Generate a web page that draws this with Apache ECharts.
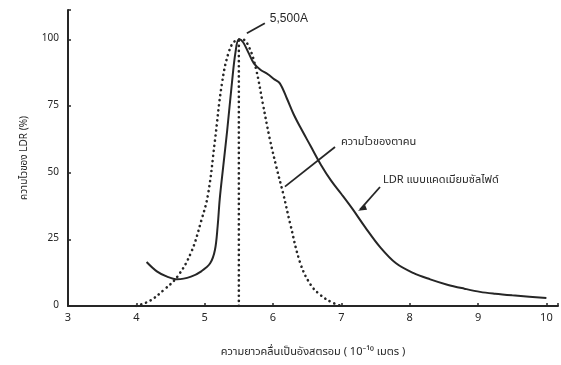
<!DOCTYPE html>
<html>
<head>
<meta charset="utf-8">
<script src="https://cdn.jsdelivr.net/npm/echarts@6/dist/echarts.min.js"></script>
<style>
html,body{margin:0;padding:0;background:#fff;}
#chart{width:561px;height:365px;}
</style>
</head>
<body>
<div id="chart"></div>
<script>
// wavelength (x 10^-10 m) and sensitivity (%)
const eyeX   = [4.0, 4.2, 4.4, 4.6, 4.8, 4.95, 5.05, 5.15, 5.25, 5.35, 5.45, 5.55, 5.65, 5.75, 5.85, 5.95, 6.05, 6.15, 6.25, 6.4, 6.55, 6.7, 6.85, 7.0];
const eyeY   = [0,   2,   6,   11,  20,  32,   42,   62,   83,   95,   99.5, 100,  97,   89,   76,   63,   52,   42,   31,   16,  8,    4,   1.5,  0];
const ldrX   = [4.15, 4.3, 4.45, 4.6, 4.8, 4.95, 5.08, 5.15, 5.19, 5.22, 5.27, 5.33, 5.4, 5.45, 5.5, 5.56, 5.64, 5.72, 5.82, 5.92, 6.02, 6.1, 6.2, 6.3, 6.4, 6.55, 6.7, 6.85, 7.0, 7.16, 7.35, 7.57, 7.8, 8.05, 8.3, 8.55, 8.8, 9.03, 9.25, 9.5, 9.75, 10.0];
const ldrY   = [16.5, 13,  11,   10,  11,  13,   16,   21,   30,   40,   52,   66,   84,  95,   100, 99,   95,   91,   88.5, 87,   85,   83.5, 78, 72,  67,  60,   53,  47,   42,  36.5, 29.5, 22,   16,  12.4, 10,  8,    6.5, 5.3,  4.6,  4,   3.5,  3];
const peakX  = [5.5, 5.5];
const peakY  = [0, 100];
const xTicks = [3, 4, 5, 6, 7, 8, 9, 10];
const yTicks = [0, 25, 50, 75, 100];

const yAxisName = 'ความไวของ LDR (%)';
const xAxisName = 'ความยาวคลื่นเป็นอังสตรอม ( 10⁻¹⁰ เมตร )';
const eyeLabel  = 'ความไวของตาคน';
const ldrLabel  = 'LDR แบบแคดเมียมซัลไฟด์';
const peakLabel = '5,500A';

const FONT = '"Noto Sans Thai","Noto Sans","DejaVu Sans",sans-serif';
const INK = '#262626';

function zip(a, b) { return a.map((v, i) => [v, b[i]]); }

const chart = echarts.init(document.getElementById('chart'), null, {renderer: 'canvas'});
chart.setOption({
  animation: false,
  backgroundColor: '#fff',
  grid: {left: 68, right: 3, top: 10, bottom: 59},
  xAxis: {
    type: 'value', min: 3, max: 10.17, interval: 1,
    splitLine: {show: false},
    axisLine: {lineStyle: {color: INK, width: 2}},
    axisTick: {inside: true, length: 3, lineStyle: {color: INK, width: 1.5}},
    axisLabel: {
      color: INK, fontFamily: FONT, fontSize: 11, margin: 7,
      formatter: v => (xTicks.indexOf(v) >= 0 ? String(v) : '')
    },
    name: xAxisName, nameLocation: 'middle', nameGap: 41,
    nameTextStyle: {color: INK, fontFamily: FONT, fontSize: 11}
  },
  yAxis: {
    type: 'value', min: 0, max: 111, interval: 25,
    splitLine: {show: false},
    axisLine: {show: true, lineStyle: {color: INK, width: 2}},
    axisTick: {show: true, inside: true, length: 3, lineStyle: {color: INK, width: 1.5}},
    axisLabel: {
      color: INK, fontFamily: FONT, fontSize: 10, margin: 9,
      formatter: v => (yTicks.indexOf(v) >= 0 ? String(v) : '')
    },
    name: yAxisName, nameLocation: 'middle', nameGap: 38, nameRotate: 90,
    nameTextStyle: {color: INK, fontFamily: FONT, fontSize: 10}
  },
  series: [
    {
      type: 'line', data: zip(eyeX, eyeY), smooth: 0.4, showSymbol: false,
      lineStyle: {color: INK, width: 2.6, type: [0.1, 5], cap: 'round'}
    },
    {
      type: 'line', data: zip(peakX, peakY), showSymbol: false,
      lineStyle: {color: INK, width: 2.6, type: [0.1, 5], cap: 'round'}
    },
    {
      type: 'line', data: zip(ldrX, ldrY), smooth: 0.35, showSymbol: false,
      lineStyle: {color: INK, width: 2}
    }
  ]
});

// annotations anchored to data coordinates
const p = (x, y) => chart.convertToPixel({gridIndex: 0}, [x, y]);
const peakPt = p(5.5, 100);
const eyePt  = p(6.13, 44);
const ldrPt  = p(7.2, 35);
chart.setOption({
  graphic: [
    {type: 'line', shape: {x1: peakPt[0] + 8, y1: peakPt[1] - 6, x2: peakPt[0] + 26, y2: peakPt[1] - 16},
     style: {stroke: INK, lineWidth: 1.8}},
    {type: 'text', x: peakPt[0] + 31, y: peakPt[1] - 21,
     style: {text: peakLabel, fill: INK, font: '12px "Liberation Sans", Arial, sans-serif', textVerticalAlign: 'middle'}},
    {type: 'line', shape: {x1: eyePt[0] + 3, y1: eyePt[1] - 2, x2: 335, y2: 147},
     style: {stroke: INK, lineWidth: 1.8}},
    {type: 'text', x: 341, y: 143,
     style: {text: eyeLabel, fill: INK, font: '11px ' + FONT, textVerticalAlign: 'middle'}},
    {type: 'line', shape: {x1: ldrPt[0] + 5, y1: ldrPt[1] - 3, x2: 380, y2: 187},
     style: {stroke: INK, lineWidth: 1.8}},
    {type: 'polygon', shape: {points: [[ldrPt[0] + 3, ldrPt[1] - 2], [ldrPt[0] + 10, ldrPt[1] - 8], [ldrPt[0] + 12, ldrPt[1] - 3]]},
     style: {fill: INK}},
    {type: 'text', x: 383, y: 181,
     style: {text: ldrLabel, fill: INK, font: '11px ' + FONT, textVerticalAlign: 'middle'}}
  ]
});
</script>
</body>
</html>
